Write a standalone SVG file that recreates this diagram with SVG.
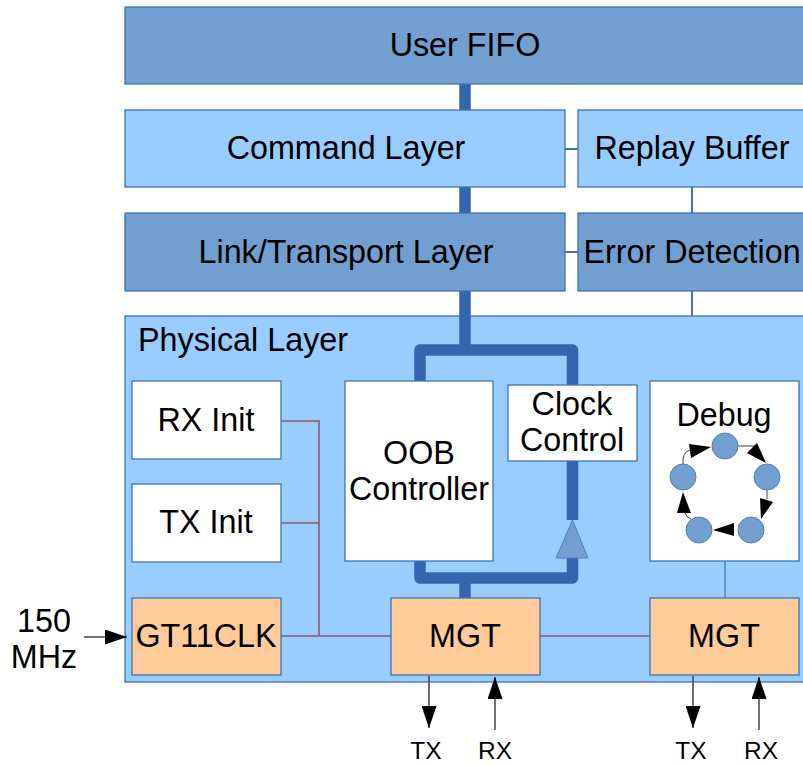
<svg xmlns="http://www.w3.org/2000/svg" width="803" height="766" viewBox="0 0 803 766">
<style>
text{font-family:"Liberation Sans",Arial,sans-serif;font-size:32.3px;fill:#000;text-anchor:middle}
.s{font-size:24.5px}
.box{stroke:#3f73b4;stroke-width:1.3}
.dark{fill:#729fcf}.light{fill:#99ccff}.white{fill:#fff}.orange{fill:#ffcc99}
.bus{fill:none;stroke:#3465af;stroke-width:11.5;stroke-linejoin:round}
.thin{fill:none;stroke:#3f73b4;stroke-width:2}
.red{fill:none;stroke:#8f5a70;stroke-width:1.6}
.blk{fill:none;stroke:#444;stroke-width:1.5}
.hair{fill:none;stroke:#444;stroke-width:1}
.head{fill:#000}
.ring{fill:#729fcf;stroke:#4f81bd;stroke-width:1}
</style>
<defs>
<marker id="a" viewBox="0 0 22 15" refX="22" refY="7.5" markerUnits="userSpaceOnUse" markerWidth="22" markerHeight="15" orient="auto"><path d="M0 0L22 7.5L0 15Z" fill="#000"/></marker>
</defs>
<g id="physical-bg"><rect class="box light" x="125" y="316" width="690" height="366"/></g>
<g id="connectors">
<path class="bus" d="M465 84V110M465 187V213M465 291V350"/>
<path class="bus" d="M420 381V350H572.5V385"/>
<path class="bus" d="M572.5 461V520"/>
<path class="bus" d="M420 561V578H572.5V557M465 578V598"/>
<path class="thin" d="M565 149H578M565 252H578M692 187V213M692 291V316"/>
<path class="thin" style="stroke-width:1.2" d="M725 561V598"/>
<path class="red" d="M281 421H319V636M281 523H319M281 636H391M540 636H650"/>
<path class="blk" d="M84 637H127" marker-end="url(#a)"/>
<path class="blk" d="M429 676V728" marker-end="url(#a)"/>
<path class="blk" d="M495 730V677" marker-end="url(#a)"/>
<path class="blk" d="M693 676V728" marker-end="url(#a)"/>
<path class="blk" d="M759 730V677" marker-end="url(#a)"/>
</g>
<g id="user-fifo"><rect class="box dark" x="125" y="7" width="690" height="77"/><text x="465" y="56">User FIFO</text></g>
<g id="command-layer"><rect class="box light" x="125" y="110" width="440" height="77"/><text x="346" y="159">Command Layer</text></g>
<g id="replay-buffer"><rect class="box light" x="578" y="110" width="240" height="77"/><text x="692" y="159">Replay Buffer</text></g>
<g id="link-layer"><rect class="box dark" x="125" y="213" width="440" height="78"/><text x="346" y="263">Link/Transport Layer</text></g>
<g id="error-detection"><rect class="box dark" x="578" y="213" width="240" height="78"/><text x="692" y="263">Error Detection</text></g>
<g id="physical-label"><text x="138" y="351" style="text-anchor:start">Physical Layer</text></g>
<g id="rx-init"><rect class="box white" x="132" y="381" width="149" height="78"/><text x="206" y="431">RX Init</text></g>
<g id="tx-init"><rect class="box white" x="132" y="484" width="149" height="78"/><text x="206" y="533">TX Init</text></g>
<g id="oob"><rect class="box white" x="345" y="381" width="148" height="180"/><text x="419" y="464">OOB</text><text x="419" y="500">Controller</text></g>
<g id="clock-control"><rect class="box white" x="508" y="385" width="129" height="76"/><text x="572" y="415">Clock</text><text x="572" y="451">Control</text></g>
<g id="buffer-triangle"><path d="M572.5 520L588 558H556Z" fill="#729fcf" stroke="#4f81bd"/></g>
<g id="debug"><rect class="box white" x="650" y="381" width="149" height="180"/><text x="724" y="426">Debug</text>
<path class="hair" d="M738 446H758M767 490V499M715 530H734M685 513Q686 517 691 519M683 465Q682 452 690 450"/>
<path class="head" d="M757 443L766 463L747 453Z"/>
<path class="head" d="M760 498L773 502L761 519Z"/>
<path class="head" d="M713 530L734 523V536Z"/>
<path class="head" d="M683 492L691 513L677 513Z"/>
<path class="head" d="M711 447L689 444L691 458Z"/>
<circle class="ring" cx="725" cy="446" r="13"/><circle class="ring" cx="767" cy="477" r="13"/><circle class="ring" cx="751" cy="530" r="13"/><circle class="ring" cx="699" cy="530" r="13"/><circle class="ring" cx="683" cy="477" r="13"/></g>
<g id="gt11clk"><rect class="box orange" x="132" y="598" width="149" height="77"/><text x="206" y="647">GT11CLK</text></g>
<g id="mgt1"><rect class="box orange" x="391" y="598" width="149" height="77"/><text x="465" y="647">MGT</text></g>
<g id="mgt2"><rect class="box orange" x="650" y="598" width="149" height="77"/><text x="724" y="647">MGT</text></g>
<g id="labels">
<text x="44" y="632">150</text><text x="44" y="668">MHz</text>
<text class="s" x="426" y="759">TX</text><text class="s" x="495" y="759">RX</text>
<text class="s" x="691" y="759">TX</text><text class="s" x="761" y="759">RX</text>
</g>
</svg>
